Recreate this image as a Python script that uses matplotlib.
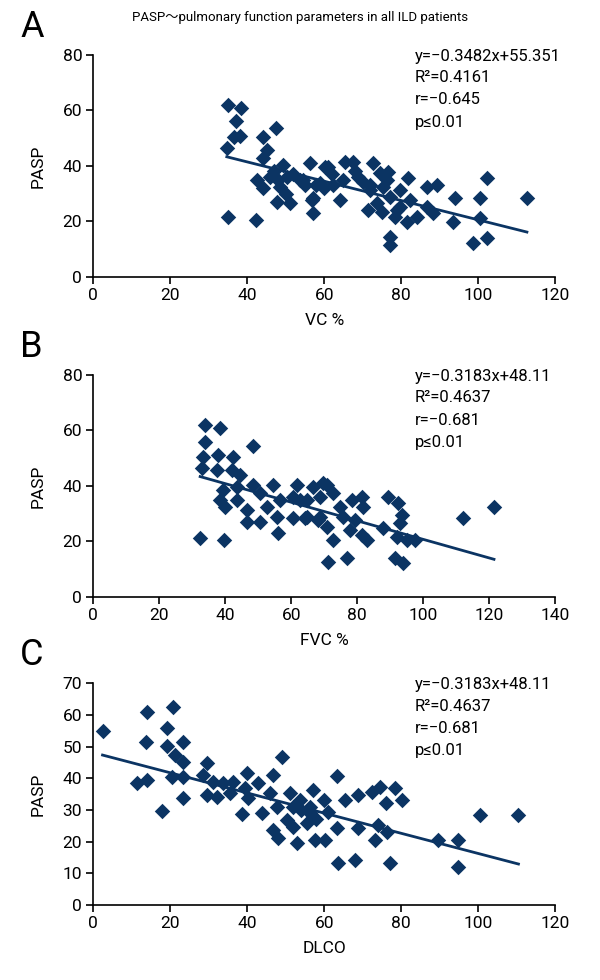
import matplotlib
matplotlib.use('Agg')
import matplotlib.pyplot as plt
import numpy as np

plt.rcParams['font.family'] = ['Roboto', 'DejaVu Sans']

navy = '#0b3463'

# Panel A: PASP vs VC %
vc_x = [34.9, 38.4, 37.1, 38.1, 36.6, 34.7, 47.5, 44.0, 45.1, 44.0, 49.4, 56.3, 60.2,
        42.5, 44.2, 48.1, 50.3, 53.7, 47.7, 51.1, 56.8, 57.2, 35.1, 42.3, 48.5, 58.9,
        61.1, 65.4, 67.6, 72.8, 54.6, 62.4, 68.9, 74.5, 76.7, 81.9, 86.7, 89.3, 102.3,
        94.0, 100.5, 112.7, 64.1, 57.2, 71.5, 77.1, 79.7, 78.4, 81.5, 84.1, 88.4, 93.6,
        100.5, 77.1, 77.1, 98.8, 102.3, 75.4, 79.7, 82.3, 75.0, 86.7, 78.9, 71.9, 76.3,
        73.7, 47.0, 52.0, 55.0, 58.0, 60.0, 62.0, 50.0, 65.0, 68.0, 70.0, 72.0, 46.0]
vc_y = [62.0, 60.8, 56.3, 50.8, 50.5, 46.3, 53.5, 50.5, 45.7, 42.7, 40.3, 40.9, 39.7,
        34.9, 31.9, 34.9, 36.1, 34.9, 27.1, 26.7, 27.7, 22.9, 21.7, 20.5, 32.5, 33.7,
        39.7, 41.5, 41.5, 40.9, 34.9, 33.1, 36.1, 37.3, 37.9, 35.5, 32.5, 33.1, 35.5,
        28.3, 28.3, 28.3, 27.7, 28.3, 24.1, 28.9, 25.3, 21.7, 19.8, 21.7, 22.9, 19.8,
        21.1, 14.4, 11.4, 12.0, 13.8, 32.5, 31.3, 27.7, 23.5, 25.3, 24.1, 31.3, 34.9,
        26.5, 38.0, 37.0, 33.0, 33.0, 32.0, 37.0, 30.0, 35.0, 38.0, 34.0, 33.0, 36.0]

# Panel B: PASP vs FVC %
fvc_x = [33.9, 38.4, 33.9, 48.5, 33.4, 37.9, 42.4, 32.9, 37.4, 42.0, 44.5, 39.4, 43.5,
         48.5, 54.6, 61.7, 66.7, 70.8, 38.4, 39.9, 43.5, 46.5, 50.5, 52.6, 56.6, 60.6,
         64.7, 68.7, 46.5, 50.5, 55.6, 60.6, 64.2, 56.1, 32.4, 39.6, 68.2, 71.3,
         69.7, 62.7, 64.7, 72.8, 74.8, 78.4, 81.4, 81.9, 70.8, 72.8, 77.8, 81.4, 82.9,
         76.8, 87.9, 89.5, 92.5, 93.5, 93.0, 92.0, 95.0, 97.5, 91.5, 94.0, 112.0,
         121.5, 79.3, 68.7, 75.8]
fvc_y = [62.0, 60.8, 55.9, 54.4, 50.5, 51.1, 50.5, 46.3, 45.7, 45.7, 43.9, 38.5, 39.7,
         40.3, 40.3, 40.3, 39.7, 40.3, 34.9, 32.5, 34.9, 31.3, 37.3, 32.5, 34.9, 36.1,
         34.9, 36.1, 27.1, 27.1, 28.9, 28.3, 28.3, 22.9, 21.1, 20.5, 27.7, 12.6,
         40.9, 34.9, 28.9, 37.3, 32.5, 34.9, 36.1, 32.5, 25.3, 20.5, 24.1, 22.3, 20.5,
         13.8, 24.7, 36.1, 33.7, 29.5, 26.5, 21.7, 20.5, 20.5, 13.8, 12.0, 28.3,
         32.5, 27.7, 28.9, 28.9]

# Panel C: PASP vs DLCO
dlco_x = [2.4, 13.9, 20.8, 19.1, 13.7, 19.2, 23.4, 21.2, 23.4, 11.3, 14.0, 20.4, 23.4,
          23.4, 17.8, 29.5, 28.6, 31.2, 29.5, 32.1, 33.8, 35.5, 36.4, 39.9, 39.4, 40.3,
          38.6, 42.9, 43.8, 46.8, 49.0, 45.9, 47.7, 46.8, 48.1, 51.1, 53.7, 50.3, 52.0,
          52.9, 57.2, 56.3, 57.6, 55.5, 63.4, 65.4, 68.9, 72.4, 74.5, 78.4, 80.2, 76.1,
          61.1, 63.3, 68.9, 74.1, 76.3, 73.2, 60.2, 63.7, 68.0, 77.1, 89.7, 94.9, 94.9,
          100.5, 110.5, 56.3, 54.0, 58.0, 60.0, 52.0]
dlco_y = [54.9, 61.0, 62.4, 55.8, 51.4, 50.2, 51.6, 47.4, 45.3, 38.6, 39.5, 40.5, 40.5,
          33.7, 29.7, 44.7, 41.0, 38.9, 34.7, 34.2, 38.4, 35.3, 38.9, 41.6, 36.8, 33.7,
          28.6, 38.4, 29.0, 41.0, 46.8, 35.3, 31.0, 23.7, 21.1, 35.3, 33.2, 26.8, 24.7,
          19.5, 36.3, 29.0, 20.5, 25.8, 40.7, 33.2, 34.7, 35.8, 37.4, 36.8, 33.2, 32.1,
          29.5, 24.2, 24.2, 25.3, 23.1, 20.5, 20.5, 13.2, 14.2, 13.2, 20.5, 20.5, 12.1,
          28.4, 28.4, 31.0, 30.0, 27.0, 33.0, 31.0]

# trend lines as drawn in the figure (slope, intercept)
trend_a = (-0.3482, 55.351)
trend_b = (-0.335, 54.2)
trend_c = (-0.3183, 48.11)

panels = [
    ('A', vc_x, vc_y, 'VC %', 120, 80, 20, trend_a,
     ['y=\u22120.3482x+55.351', 'R\u00b2=0.4161', 'r=\u22120.645', 'p\u22640.01']),
    ('B', fvc_x, fvc_y, 'FVC %', 140, 80, 20, trend_b,
     ['y=\u22120.3183x+48.11', 'R\u00b2=0.4637', 'r=\u22120.681', 'p\u22640.01']),
    ('C', dlco_x, dlco_y, 'DLCO', 120, 70, 10, trend_c,
     ['y=\u22120.3183x+48.11', 'R\u00b2=0.4637', 'r=\u22120.681', 'p\u22640.01']),
]

W, H = 600, 980
fig = plt.figure(figsize=(6, 9.8), dpi=100)

# axes boxes in pixels: left, top, right, bottom
boxes = [(93.3, 55, 555, 276.7), (93.3, 375, 555, 596.7), (93.3, 683.3, 555, 905)]

for (letter, xs, ys, xlabel, xmax, ymax, ystep, (m, b), lines), box in zip(panels, boxes):
    l, t, r, btm = box
    ax = fig.add_axes([l / W, 1 - btm / H, (r - l) / W, (btm - t) / H])
    ax.scatter(xs, ys, marker='D', s=62, color=navy, linewidths=0, zorder=3, clip_on=False)
    xx = np.array([min(xs), max(xs)])
    ax.plot(xx, m * xx + b, color=navy, lw=2, zorder=2)
    ax.set_xlim(0, xmax)
    ax.set_ylim(0, ymax)
    ax.set_xticks(np.arange(0, xmax + 1, 20))
    ax.set_yticks(np.arange(0, ymax + 1, ystep))
    for s in ['top', 'right']:
        ax.spines[s].set_visible(False)
    for s in ['left', 'bottom']:
        ax.spines[s].set_linewidth(1.2)
    ax.tick_params(direction='out', length=5, width=1.2, labelsize=12.5, pad=3)
    ax.set_xlabel(xlabel, fontsize=12.5, labelpad=7)
    ax.set_ylabel('PASP', fontsize=12.5, labelpad=12)
    # statistics block
    for i, txt in enumerate(lines):
        fig.text(415 / W, 1 - (t + 1 + 22 * i) / H, txt, fontsize=12, va='center', ha='left')
    fig.text(20 / W, 1 - (t - 28) / H, letter, fontsize=26, va='center', ha='left')

fig.text(0.5, 1 - 18 / H, 'PASP\uff5epulmonary function parameters in all ILD patients',
         fontsize=9.5, ha='center', va='center',
         family=['Roboto', 'Noto Sans CJK SC', 'DejaVu Sans'])

fig.savefig('out.png', dpi=100)
